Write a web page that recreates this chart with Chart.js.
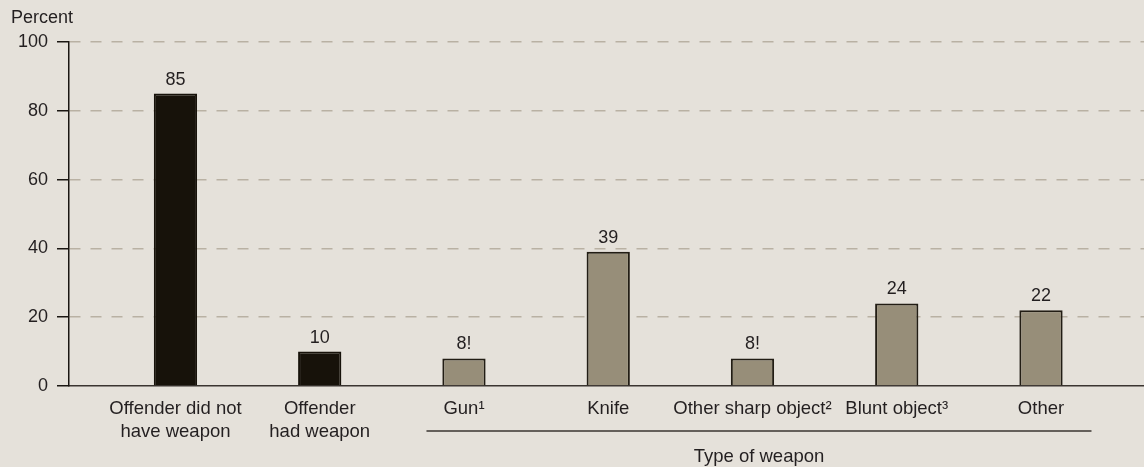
<!DOCTYPE html>
<html>
<head>
<meta charset="utf-8">
<script src="https://cdn.jsdelivr.net/npm/chart.js@4"></script>
<style>
  html, body { margin: 0; padding: 0; background: #e5e1da; }
  #wrap { width: 1144px; height: 467px; position: relative; }
</style>
</head>
<body>
<div id="wrap"><canvas id="weaponChart"></canvas></div>
<script>
// 카테고리 / 값
const categories = [
    ['Offender did not', 'have weapon'],
    ['Offender', 'had weapon'],
    'Gun\u00b9',
    'Knife',
    'Other sharp object\u00b2',
    'Blunt object\u00b3',
    'Other'
];
const percentValues = [85, 10, 8, 39, 8, 24, 22];
const valueLabels = ['85', '10', '8!', '39', '8!', '24', '22'];
const weaponGroup = [false, false, true, true, true, true, true]; // 무기 종류 그룹 여부
const yTicks = [0, 20, 40, 60, 80, 100];
const groupTitle = 'Type of weapon';
const axisTitle = 'Percent';

const textColor = '#231f20';
const fontFamily = '"Liberation Sans", Arial, sans-serif';

// 막대 위 값 표시 + 그룹 괄호선
const labelPlugin = {
    id: 'labelPlugin',
    afterDatasetsDraw(chart) {
        const ctx = chart.ctx;
        const meta = chart.getDatasetMeta(0);
        const xScale = chart.scales.x;
        ctx.save();
        ctx.fillStyle = textColor;
        ctx.font = '18px ' + fontFamily;
        ctx.textAlign = 'center';
        ctx.textBaseline = 'bottom';
        meta.data.forEach(function(bar, i) {
            ctx.fillText(valueLabels[i], bar.x, bar.y - 5);
        });

        // Percent 라벨
        ctx.textAlign = 'left';
        ctx.textBaseline = 'middle';
        ctx.fillText(axisTitle, 11, 18);

        // 무기 종류 괄호선
        const first = weaponGroup.indexOf(true);
        const last = weaponGroup.lastIndexOf(true);
        const x1 = xScale.getPixelForValue(first - 0.26);
        const x2 = xScale.getPixelForValue(last + 0.35);
        ctx.strokeStyle = '#3a3530';
        ctx.lineWidth = 1.5;
        ctx.beginPath();
        ctx.moveTo(x1, 431);
        ctx.lineTo(x2, 431);
        ctx.stroke();

        ctx.textAlign = 'center';
        ctx.font = '18.5px ' + fontFamily;
        ctx.fillText(groupTitle, (x1 + x2) / 2, 457);
        ctx.restore();
    }
};

const ctx = document.getElementById('weaponChart').getContext('2d');
new Chart(ctx, {
    type: 'bar',
    data: {
        datasets: [{
            data: percentValues.map((v, i) => ({ x: i, y: v })),
            backgroundColor: weaponGroup.map(g => g ? '#978e79' : '#17120a'),
            borderColor: weaponGroup.map(g => g ? '#221d14' : '#17120a'),
            borderWidth: 2,
            barPercentage: 0.3,
            categoryPercentage: 1
        }]
    },
    options: {
        responsive: true,
        maintainAspectRatio: false,
        animation: false,
        layout: { padding: { top: 42, left: 0, right: 0, bottom: 0 } },
        plugins: {
            legend: { display: false },
            tooltip: { enabled: false }
        },
        scales: {
            x: {
                type: 'linear',
                min: -0.738,
                max: 6.714,
                offset: false,
                grid: { display: false, drawTicks: false },
                border: { display: true, color: '#3a3530', width: 1.5 },
                afterBuildTicks: function(scale) {
                    scale.ticks = categories.map((c, i) => ({ value: i }));
                },
                afterFit: function(scale) { scale.height = 81; },
                ticks: {
                    autoSkip: false,
                    maxRotation: 0,
                    padding: 11,
                    color: textColor,
                    font: { size: 18.5, family: fontFamily, lineHeight: 1.25 },
                    callback: function(value) { return categories[value]; }
                }
            },
            y: {
                min: 0,
                max: 100,
                afterBuildTicks: function(scale) {
                    scale.ticks = yTicks.map(v => ({ value: v }));
                },
                afterFit: function(scale) { scale.width = 69; },
                grid: {
                    color: c => (c.tick && c.tick.value === 0) ? 'rgba(0,0,0,0)' : '#b9b1a3',
                    lineWidth: 1.5,
                    tickColor: '#1a1612',
                    tickWidth: 1.5,
                    tickLength: 12,
                    tickBorderDash: []
                },
                border: { display: true, color: '#1a1612', width: 1.5, dash: [11, 10] },
                ticks: {
                    padding: 9,
                    color: textColor,
                    font: { size: 18, family: fontFamily }
                }
            }
        }
    },
    plugins: [labelPlugin]
});
</script>
</body>
</html>
